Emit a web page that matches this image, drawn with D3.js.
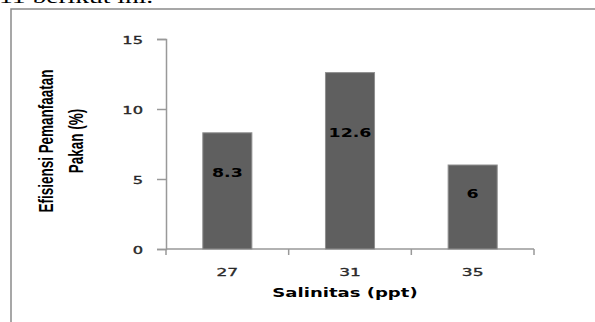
<!DOCTYPE html>
<html>
<head>
<meta charset="utf-8">
<script src="https://cdn.jsdelivr.net/npm/d3@7"></script>
<style>
  html, body { margin: 0; padding: 0; background: #fff; overflow: hidden; }
  svg { display: block; }
</style>
</head>
<body>
<svg id="chart" width="595" height="322"></svg>
<script>
// Efisiensi pemanfaatan pakan per tingkat salinitas
const categories = ["27", "31", "35"];
const values = [8.3, 12.6, 6];
const valueLabels = ["8.3", "12.6", "6"];
const yTicks = [0, 5, 10, 15];
const yTitleLines = ["Efisiensi Pemanfaatan", "Pakan (%)"];
const xTitle = "Salinitas (ppt)";
const captionTail = "11 berikut ini.";

const svg = d3.select("#chart");
const stretch = 1.45; // horizontal glyph widening used throughout

// fragment of the surrounding paragraph, cut by the top edge
svg.append("text")
  .attr("transform", `translate(-1,3) scale(${stretch},1)`)
  .attr("font-family", "Liberation Serif, serif")
  .attr("font-size", 19)
  .attr("fill", "#000")
  .text(captionTail);

// frame around the chart
svg.append("rect")
  .attr("x", 11).attr("y", 9)
  .attr("width", 620).attr("height", 340)
  .attr("fill", "none")
  .attr("stroke", "#8a8a8a")
  .attr("stroke-width", 1.5);

const plotLeft = 166, plotRight = 534, plotTop = 39, plotBottom = 249;

const x = d3.scaleBand()
  .domain(categories)
  .range([plotLeft, plotRight])
  .paddingInner(0.6)
  .paddingOuter(0.3);

const y = d3.scaleLinear().domain([0, 15]).range([plotBottom, plotTop]);

// y axis
const yAxis = svg.append("g")
  .attr("transform", `translate(${plotLeft},0)`)
  .call(d3.axisLeft(y).tickValues(yTicks).tickSize(9).tickPadding(14));
yAxis.select(".domain").attr("stroke", "#999").attr("stroke-width", 1.5);
yAxis.selectAll(".tick line").attr("stroke", "#999").attr("stroke-width", 1.5);
yAxis.selectAll(".tick text")
  .attr("font-family", "DejaVu Sans, Verdana, sans-serif")
  .attr("font-size", 10.5)
  .attr("fill", "#2a2a2a")
  .attr("stroke", "#2a2a2a")
  .attr("stroke-width", 0.35)
  .each(function () {
    const t = d3.select(this);
    const tx = +t.attr("x");
    t.attr("x", null)
     .attr("transform", `translate(${tx},1) scale(${stretch + 0.1},1)`);
  });

// x axis: baseline with ticks on band boundaries
const xg = svg.append("g");
xg.append("line")
  .attr("x1", plotLeft).attr("x2", plotRight)
  .attr("y1", plotBottom).attr("y2", plotBottom)
  .attr("stroke", "#999").attr("stroke-width", 1.5);
const boundaries = d3.range(categories.length + 1).map(i => plotLeft + i * x.step());
xg.selectAll("line.tick")
  .data(boundaries)
  .join("line")
  .attr("class", "tick")
  .attr("x1", d => d).attr("x2", d => d)
  .attr("y1", plotBottom).attr("y2", plotBottom + 6)
  .attr("stroke", "#999").attr("stroke-width", 1.5);
xg.selectAll("text.cat")
  .data(categories)
  .join("text")
  .attr("class", "cat")
  .attr("transform", d => `translate(${x(d) + x.bandwidth() / 2},275.5) scale(${stretch + 0.1},1)`)
  .attr("text-anchor", "middle")
  .attr("font-family", "DejaVu Sans, Verdana, sans-serif")
  .attr("font-size", 11)
  .attr("fill", "#2a2a2a")
  .attr("stroke", "#2a2a2a")
  .attr("stroke-width", 0.35)
  .text(d => d);

// bars
svg.selectAll("rect.bar")
  .data(values)
  .join("rect")
  .attr("class", "bar")
  .attr("x", (d, i) => x(categories[i]))
  .attr("y", d => y(d))
  .attr("width", x.bandwidth())
  .attr("height", d => y(0) - y(d))
  .attr("fill", "#5f5f5f")
  .attr("stroke", "#8f8f8f")
  .attr("stroke-width", 1);

// value labels, placed two thirds up each bar
svg.selectAll("text.val")
  .data(values)
  .join("text")
  .attr("class", "val")
  .attr("transform", (d, i) => `translate(${x(categories[i]) + x.bandwidth() / 2},${y(d * 0.66)}) scale(${stretch},1)`)
  .attr("dy", "0.36em")
  .attr("text-anchor", "middle")
  .attr("font-family", "DejaVu Sans, Verdana, sans-serif")
  .attr("font-weight", "bold")
  .attr("font-size", 12)
  .attr("fill", "#000")
  .text((d, i) => valueLabels[i]);

// axis titles
svg.append("text")
  .attr("transform", `translate(345,297) scale(${stretch + 0.03},1)`)
  .attr("text-anchor", "middle")
  .attr("font-family", "DejaVu Sans, Verdana, sans-serif")
  .attr("font-weight", "bold")
  .attr("font-size", 12.2)
  .attr("fill", "#000")
  .text(xTitle);

const yTitleBase = [53, 83];
svg.selectAll("text.ytitle")
  .data(yTitleLines)
  .join("text")
  .attr("class", "ytitle")
  .attr("transform", (d, i) => `translate(${yTitleBase[i]},141) rotate(-90) scale(1,${stretch})`)
  .attr("text-anchor", "middle")
  .attr("font-family", "Liberation Sans, Arial, sans-serif")
  .attr("font-weight", "bold")
  .attr("font-size", 13.5)
  .attr("fill", "#000")
  .text(d => d);
</script>
</body>
</html>
